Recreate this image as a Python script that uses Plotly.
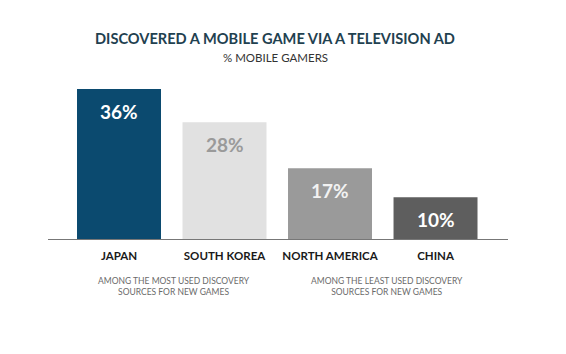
import plotly.graph_objects as go

categories = ["JAPAN", "SOUTH KOREA", "NORTH AMERICA", "CHINA"]
values = [36, 28, 17, 10]
value_labels = ["36%", "28%", "17%", "10%"]
bar_colors = ["#0b4a6f", "#e1e1e1", "#9a9a9a", "#5e5e5e"]
label_colors = ["#ffffff", "#9a9a9a", "#f2f2f2", "#ffffff"]

title = "DISCOVERED A MOBILE GAME VIA A TELEVISION AD"
subtitle = "% MOBILE GAMERS"
note_left = "AMONG THE MOST USED DISCOVERY<br>SOURCES FOR NEW GAMES"
note_right = "AMONG THE LEAST USED DISCOVERY<br>SOURCES FOR NEW GAMES"

W, H = 566, 354
ml, mr, mt, mb = 48, 58, 80, 115

fig = go.Figure()
fig.add_trace(go.Bar(
    x=categories, y=values,
    marker=dict(color=bar_colors, line=dict(width=0)),
    width=0.796,
    hoverinfo="skip",
))

for c, v, t, col in zip(categories, values, value_labels, label_colors):
    fig.add_annotation(x=c, y=v, text="<b>" + t + "</b>", showarrow=False,
                       yanchor="middle", yshift=-22,
                       font=dict(family="Lato, Open Sans, sans-serif", size=19, color=col))

fig.add_annotation(xref="paper", yref="paper", x=(275 - ml) / (W - ml - mr), y=1 + (mt - 38) / (H - mt - mb),
                   text="<b>" + title + "</b>", showarrow=False, xanchor="center", yanchor="middle",
                   font=dict(family="Lato, Open Sans, sans-serif", size=14.6, color="#1f4150"))
fig.add_annotation(xref="paper", yref="paper", x=(275 - ml) / (W - ml - mr), y=1 + (mt - 57) / (H - mt - mb),
                   text=subtitle, showarrow=False, xanchor="center", yanchor="middle",
                   font=dict(family="Lato, Open Sans, sans-serif", size=11.5, color="#333333"))

fig.add_annotation(xref="x", yref="paper", x=0.52, y=-(286 - 239) / (H - mt - mb),
                   text=note_left, showarrow=False, xanchor="center", yanchor="middle",
                   font=dict(family="Lato, Open Sans, sans-serif", size=8.5, color="#6a6a6a"))
fig.add_annotation(xref="x", yref="paper", x=2.54, y=-(286 - 239) / (H - mt - mb),
                   text=note_right, showarrow=False, xanchor="center", yanchor="middle",
                   font=dict(family="Lato, Open Sans, sans-serif", size=8.5, color="#6a6a6a"))

fig.update_layout(
    width=W, height=H,
    margin=dict(l=ml, r=mr, t=mt, b=mb),
    paper_bgcolor="white", plot_bgcolor="white",
    showlegend=False,
    xaxis=dict(range=[-0.673, 3.687], showgrid=False, zeroline=False,
               showline=True, linecolor="#777777", linewidth=1,
               ticks="", ticklabelstandoff=6,
               tickfont=dict(family="Lato, Open Sans, sans-serif", size=11.5, color="#1a1a1a", weight="bold")),
    yaxis=dict(range=[0, 38.16], visible=False, showgrid=False, zeroline=False),
)

fig.write_html("out.html")
